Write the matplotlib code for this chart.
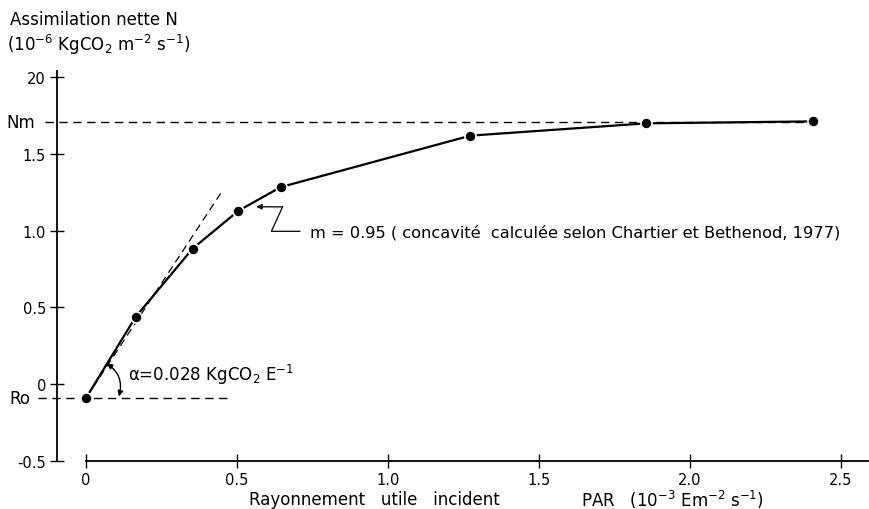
import matplotlib
matplotlib.use("Agg")
import matplotlib.pyplot as plt

plt.rcParams['font.family'] = ['DejaVu Sans']
plt.rcParams['mathtext.fontset'] = 'dejavusans'
plt.rcParams['mathtext.default'] = 'regular'

par = [0.0, 0.165, 0.353, 0.505, 0.645, 1.273, 1.854, 2.408]
assim = [-0.09, 0.44, 0.883, 1.13, 1.284, 1.619, 1.699, 1.712]

nm = 1.706
ro = -0.09
tangente_x = [0.0, 0.455]
tangente_y = [-0.09, 1.27]

xticks = [0, 0.5, 1.0, 1.5, 2.0, 2.5]
xticklabels = ["0", "0.5", "1.0", "1.5", "2.0", "2.5"]
yticks = [2.0, 1.5, 1.0, 0.5, 0, -0.5]
yticklabels = ["20", "1.5", "1.0", "0.5", "0", "-0.5"]

fig = plt.figure(figsize=(8.69, 5.10), dpi=100)
ax = fig.add_axes([0.0656, 0.0941, 0.9333, 0.7647])
ax.set_xlim(-0.096, 2.59)
ax.set_ylim(-0.5, 2.04)

# lignes de reference en tirets
ax.plot([-0.135, 2.42], [nm, nm], color='black', lw=1, dashes=(6, 4), clip_on=False)
ax.plot([-0.16, 0.48], [ro, ro], color='black', lw=1, dashes=(6, 4), clip_on=False)
ax.plot(tangente_x, tangente_y, color='black', lw=0.9, dashes=(6, 4))

ax.plot(par, assim, color='black', lw=1.6, marker='o', markersize=8,
        markerfacecolor='black', markeredgecolor='white', markeredgewidth=1.2)

# axes facon dessin technique
for s in ['top', 'right']:
    ax.spines[s].set_visible(False)
ax.spines['bottom'].set_bounds(0, 2.59)
ax.spines['left'].set_bounds(-0.5, 2.04)
ax.spines['bottom'].set_linewidth(1.3)
ax.spines['left'].set_linewidth(1.3)

ax.set_xticks(xticks)
ax.set_xticklabels(xticklabels)
ax.set_yticks(yticks)
ax.set_yticklabels(yticklabels)
ax.tick_params(direction='inout', length=10, width=1, labelsize=10.5)
ax.tick_params(axis='x', pad=3)
ax.tick_params(axis='y', pad=3)

# Nm et Ro a gauche de l'axe
ax.text(-0.17, nm, "Nm", ha='right', va='center', fontsize=12)
ax.text(-0.185, ro, "Ro", ha='right', va='center', fontsize=12)

# titre de l'axe y en haut a gauche
fig.text(0.011, 0.960, "Assimilation nette N", fontsize=12, va='center')
fig.text(0.008, 0.911, r"($10^{-6}$ KgCO$_2$ m$^{-2}$ s$^{-1}$)", fontsize=12, va='center')

# titre de l'axe x
fig.text(0.287, 0.02, "Rayonnement   utile   incident", fontsize=12, va='center')
fig.text(0.669, 0.02, r"PAR   ($10^{-3}$ Em$^{-2}$ s$^{-1}$)", fontsize=12, va='center')

# annotation de la pente initiale
ax.text(0.139, 0.066, r"α=0.028 KgCO$_2$ E$^{-1}$", fontsize=12, va='center')
ax.annotate("", xy=(0.109, -0.08), xytext=(0.069, 0.135),
            arrowprops=dict(arrowstyle='<|-|>', color='black', lw=1,
                            mutation_scale=8, shrinkA=0, shrinkB=0,
                            connectionstyle='arc3,rad=-0.35'))

# annotation de la concavite
ax.plot([0.651, 0.614, 0.708], [1.155, 0.996, 0.996], color='black', lw=0.9)
ax.annotate("", xy=(0.564, 1.156), xytext=(0.651, 1.155),
            arrowprops=dict(arrowstyle='-|>', color='black', lw=0.9,
                            mutation_scale=8, shrinkA=0, shrinkB=0))
ax.text(0.741, 0.996, "m = 0.95 ( concavité  calculée selon Chartier et Bethenod, 1977)",
        fontsize=11.7, va='center')

fig.savefig("out.png", dpi=100)
